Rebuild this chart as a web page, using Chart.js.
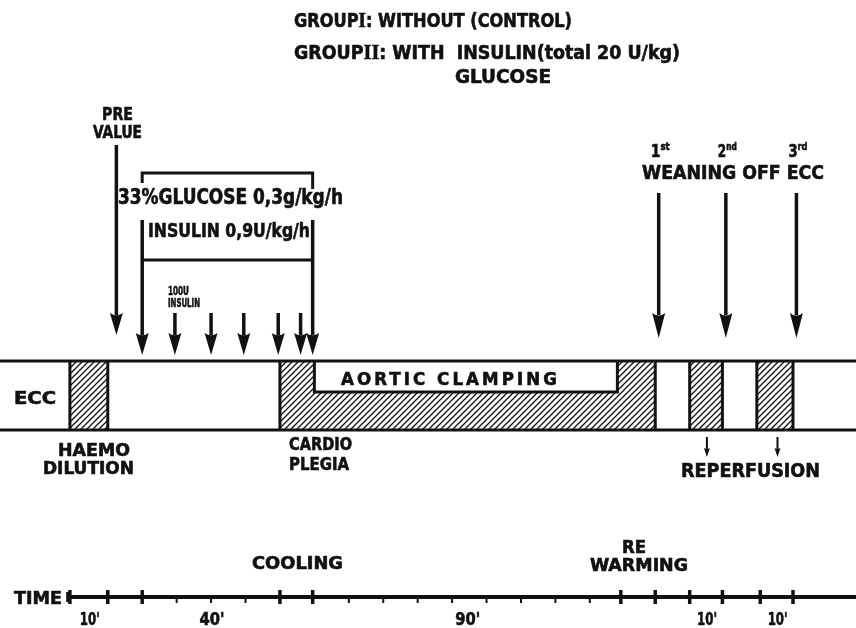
<!DOCTYPE html>
<html>
<head>
<meta charset="utf-8">
<title>ECC protocol</title>
<script src="https://cdn.jsdelivr.net/npm/chart.js@4.4.1/dist/chart.umd.min.js"></script>
<style>
  html, body { margin: 0; padding: 0; background: #fff; }
  #box { position: relative; width: 856px; height: 628px; }
</style>
</head>
<body>
<div id="box"><canvas id="protocol"></canvas></div>
<script>
// times in minutes from start of ECC
var majorTicks = [0, 11, 21, 61, 70.5, 160, 170, 180, 189.5, 200.5, 210];
var minorTicks = [31, 41, 51, 81, 91, 101, 111, 121, 131, 141, 151];
var spanLabels = ["10'", "40'", "90'", "10'", "10'"];
var spanFrom = [0, 21, 70.5, 180, 200.5];
var spanTo = [11, 61, 160, 189.5, 210];

var haemodilution = [0, 11];
var cardioplegia = [61, 170];
var aorticClamping = [71, 159];
var reperfusionFrom = [180, 199.5];
var reperfusionTo = [189.5, 210];

var preValue = 13.5;
var infusionStart = 21;
var infusionEnd = 70.5;
var insulinBolus = [30.5, 41, 50.5, 60.5, 67];
var weaning = [171, 190.5, 211];
var weaningNum = ["1", "2", "3"];
var weaningSup = ["st", "nd", "rd"];
var reperfusionMarks = [185, 205.5];

// vertical layout of the drawing (pixels from the top)
var L = {
    bandTop: 361, bandBottom: 430, clampBottom: 392,
    axisY: 597,
    preTop: 145, preTip: 335,
    infTop: 220, infTip: 355, bolusTop: 313,
    weanTop: 193, weanTip: 338,
    glucoseY: 173, insulinY: 260,
    repTop: 437, repTip: 457
};
var X_MIN = -20.3, X_MAX = 228.3;

var SANS = '"Liberation Sans Narrow", "DejaVu Sans Condensed", "Liberation Sans", Arial, sans-serif';
var SERIF = '"Liberation Serif", "DejaVu Serif", serif';
var INK = '#111';

function seg(x1, y1, x2, y2, width) {
    return {
        type: 'line',
        data: [{ x: x1, y: y1 }, { x: x2, y: y2 }],
        borderColor: INK,
        borderWidth: width || 3,
        pointRadius: 0,
        tension: 0,
        clip: false
    };
}
function poly(points, width) {
    return {
        type: 'line',
        data: points,
        borderColor: INK,
        borderWidth: width || 3,
        pointRadius: 0,
        tension: 0,
        borderJoinStyle: 'miter',
        clip: false
    };
}

var datasets = [];
// ECC band outline
datasets.push(seg(X_MIN, L.bandTop, X_MAX, L.bandTop, 3));
datasets.push(seg(X_MIN, L.bandBottom, X_MAX, L.bandBottom, 3));

// arrow shafts (heads are added by the plugin)
var arrows = [];
arrows.push({ t: preValue, top: L.preTop, tip: L.preTip, head: 22, w: 13 });
arrows.push({ t: infusionStart, top: L.infTop, tip: L.infTip, head: 22, w: 13 });
arrows.push({ t: infusionEnd, top: L.infTop, tip: L.infTip, head: 22, w: 13 });
insulinBolus.forEach(function (t) {
    arrows.push({ t: t, top: L.bolusTop, tip: L.infTip, head: 22, w: 13 });
});
weaning.forEach(function (t) {
    arrows.push({ t: t, top: L.weanTop, tip: L.weanTip, head: 25, w: 13 });
});
reperfusionMarks.forEach(function (t) {
    arrows.push({ t: t, top: L.repTop, tip: L.repTip, head: 9, w: 6 });
});
arrows.forEach(function (a) {
    datasets.push(seg(a.t, a.top, a.t, a.tip - a.head + 2, a.w > 8 ? 3.5 : 2));
});

// infusion brackets
datasets.push(poly([
    { x: infusionStart, y: L.glucoseY + 10 }, { x: infusionStart, y: L.glucoseY },
    { x: infusionEnd, y: L.glucoseY }, { x: infusionEnd, y: L.glucoseY + 16 }
], 3));
datasets.push(seg(infusionStart, L.insulinY, infusionEnd, L.insulinY, 3));

// time axis
datasets.push(seg(-0.5, L.axisY, X_MAX, L.axisY, 4));
datasets.push({
    type: 'scatter',
    data: majorTicks.map(function (t) { return { x: t, y: L.axisY }; }),
    pointStyle: 'line', rotation: 90, pointRadius: 7,
    borderColor: INK, borderWidth: 3.5, clip: false
});
datasets.push({
    type: 'scatter',
    data: minorTicks.map(function (t) { return { x: t, y: L.axisY + 2 }; }),
    pointStyle: 'line', rotation: 90, pointRadius: 4,
    borderColor: INK, borderWidth: 2, clip: false
});
datasets.push({
    type: 'scatter',
    data: [{ x: -0.5, y: L.axisY }],
    pointStyle: 'line', rotation: 90, pointRadius: 5,
    borderColor: INK, borderWidth: 4, clip: false
});

function hatchPattern(ctx) {
    var c = document.createElement('canvas');
    c.width = 6; c.height = 6;
    var g = c.getContext('2d');
    g.strokeStyle = INK;
    g.lineWidth = 1.3;
    g.beginPath();
    g.moveTo(-1, 7); g.lineTo(7, -1);
    g.moveTo(-4, 4); g.lineTo(4, -4);
    g.moveTo(2, 10); g.lineTo(10, 2);
    g.stroke();
    return ctx.createPattern(c, 'repeat');
}

function drawRich(ctx, segs, left, right, y, cap, spacing) {
    var size = cap / 0.72;
    var total = 0;
    ctx.save();
    ctx.letterSpacing = (spacing || 0) + 'px';
    segs.forEach(function (s) {
        ctx.font = 'bold ' + (size * (s[2] || 1)) + 'px ' + (s[1] || SANS);
        total += ctx.measureText(s[0]).width;
    });
    ctx.translate(left, y + cap / 2);
    ctx.scale((right - left) / total, 1);
    ctx.fillStyle = INK;
    ctx.strokeStyle = INK;
    ctx.lineWidth = 0.6;
    ctx.textBaseline = 'alphabetic';
    ctx.textAlign = 'left';
    var cx = 0;
    segs.forEach(function (s) {
        ctx.font = 'bold ' + (size * (s[2] || 1)) + 'px ' + (s[1] || SANS);
        ctx.fillText(s[0], cx, s[3] || 0);
        ctx.strokeText(s[0], cx, s[3] || 0);
        cx += ctx.measureText(s[0]).width;
    });
    ctx.restore();
}
function label(ctx, text, left, right, y, cap, spacing) {
    drawRich(ctx, [[text]], left, right, y, cap, spacing);
}

var protocolPlugin = {
    id: 'protocol',
    beforeDatasetsDraw: function (chart) {
        var ctx = chart.ctx;
        var xs = chart.scales.x, ys = chart.scales.y;
        var px = function (t) { return xs.getPixelForValue(t); };
        var top = ys.getPixelForValue(L.bandTop), bot = ys.getPixelForValue(L.bandBottom);
        var mid = ys.getPixelForValue(L.clampBottom);
        var pat = hatchPattern(ctx);
        ctx.save();
        ctx.fillStyle = pat;
        ctx.strokeStyle = INK;
        ctx.lineWidth = 3;

        function box(a, b) {
            ctx.fillRect(px(a), top, px(b) - px(a), bot - top);
            ctx.beginPath();
            ctx.moveTo(px(a), top); ctx.lineTo(px(a), bot);
            ctx.moveTo(px(b), top); ctx.lineTo(px(b), bot);
            ctx.stroke();
        }
        box(haemodilution[0], haemodilution[1]);
        for (var i = 0; i < reperfusionFrom.length; i++) box(reperfusionFrom[i], reperfusionTo[i]);

        // cardioplegia with the aortic clamping window cut out
        var c0 = px(cardioplegia[0]), c1 = px(cardioplegia[1]);
        var a0 = px(aorticClamping[0]), a1 = px(aorticClamping[1]);
        ctx.beginPath();
        ctx.moveTo(c0, top); ctx.lineTo(a0, top); ctx.lineTo(a0, mid); ctx.lineTo(a1, mid);
        ctx.lineTo(a1, top); ctx.lineTo(c1, top); ctx.lineTo(c1, bot); ctx.lineTo(c0, bot);
        ctx.closePath();
        ctx.fill();
        ctx.beginPath();
        ctx.moveTo(c0, top); ctx.lineTo(c0, bot);
        ctx.moveTo(c1, top); ctx.lineTo(c1, bot);
        ctx.moveTo(a0, top); ctx.lineTo(a0, mid); ctx.lineTo(a1, mid); ctx.lineTo(a1, top);
        ctx.stroke();
        ctx.restore();
    },
    afterDatasetsDraw: function (chart) {
        var ctx = chart.ctx;
        var xs = chart.scales.x, ys = chart.scales.y;
        var px = function (t) { return xs.getPixelForValue(t); };

        // arrow heads
        ctx.save();
        ctx.fillStyle = INK;
        arrows.forEach(function (a) {
            var x = px(a.t), tip = ys.getPixelForValue(a.tip);
            var base = tip - a.head;
            ctx.beginPath();
            ctx.moveTo(x, tip);
            ctx.lineTo(x - a.w / 2, base);
            ctx.quadraticCurveTo(x, base + a.head * 0.2, x + a.w / 2, base);
            ctx.closePath();
            ctx.fill();
        });
        ctx.restore();

        // headings
        drawRich(ctx, [["GROUP"], ["I", SERIF, 1.05], [": WITHOUT (CONTROL)"]], 294, 572, 20, 14);
        drawRich(ctx, [["GROUP"], ["II", SERIF, 1.05], [": WITH  INSULIN(total 20 U/kg)"]], 294, 680, 52, 14);
        label(ctx, "GLUCOSE", 455, 551, 76, 14);

        label(ctx, "PRE", 102, 133, 113, 13);
        label(ctx, "VALUE", 93, 142, 131, 13);

        label(ctx, "33%GLUCOSE 0,3g/kg/h", 118, 343, 196, 15);
        label(ctx, "INSULIN 0,9U/kg/h", 148, 310, 230, 14);
        label(ctx, "100U", 168, 189, 290, 9);
        label(ctx, "INSULIN", 168, 200, 302, 9);

        weaning.forEach(function (t, i) {
            var x = px(t) - 3;
            drawRich(ctx, [[weaningNum[i]], [weaningSup[i], SANS, 0.62, -7]], x - 5, x + 14, 150, 13);
        });
        label(ctx, "WEANING OFF ECC", 642, 824, 172, 14);

        label(ctx, "ECC", 14, 56, 397, 13);
        label(ctx, "AORTIC CLAMPING", 341, 560, 378, 13, 3);

        label(ctx, "HAEMO", 58, 130, 449, 13);
        label(ctx, "DILUTION", 43, 134, 467, 13);
        label(ctx, "CARDIO", 289, 352, 443, 13);
        label(ctx, "PLEGIA", 289, 349, 463, 13);
        label(ctx, "REPERFUSION", 681, 820, 470, 14);

        label(ctx, "COOLING", 252, 343, 562, 13);
        label(ctx, "RE", 622, 646, 546, 13);
        label(ctx, "WARMING", 590, 688, 564, 13);

        label(ctx, "TIME", 14, 62, 597, 13);
        spanLabels.forEach(function (s, i) {
            var c = px((spanFrom[i] + spanTo[i]) / 2);
            var w = s.charAt(0) === '1' ? 20 : 25;
            label(ctx, s, c - w / 2 + 1, c + w / 2 + 1, 618, 13);
        });
    }
};

var ctx = document.getElementById('protocol').getContext('2d');
window.protocolChart = new Chart(ctx, {
    type: 'scatter',
    data: { datasets: datasets },
    options: {
        responsive: true,
        maintainAspectRatio: false,
        animation: false,
        events: [],
        layout: { padding: 0, autoPadding: false },
        plugins: { legend: { display: false }, tooltip: { enabled: false } },
        scales: {
            x: { type: 'linear', min: X_MIN, max: X_MAX, display: false },
            y: { type: 'linear', min: 0, max: 628, reverse: true, display: false }
        }
    },
    plugins: [protocolPlugin]
});
</script>
</body>
</html>
